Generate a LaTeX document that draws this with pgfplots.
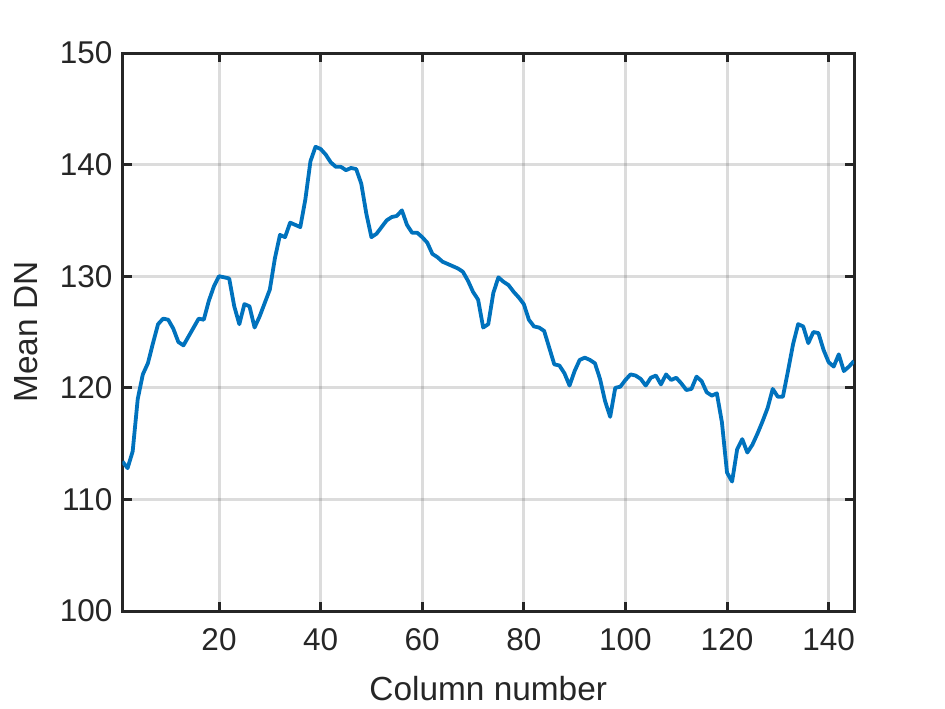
\documentclass[border=0pt]{standalone}
\usepackage{pgfplots}
\pgfplotsset{compat=1.18}
\usepackage{fontspec}
\setmainfont{Liberation Sans}
\definecolor{mlblue}{RGB}{0,114,189}
\definecolor{mltext}{RGB}{38,38,38}
\begin{document}
\begin{tikzpicture}
\useasboundingbox (-61.25pt,-48.5pt) rectangle (411.25pt,305.5pt);
\begin{axis}[
  at={(0,0)}, anchor=south west,
  scale only axis, width=365.75pt, height=279pt,
  xmin=1, xmax=145, ymin=100, ymax=150,
  xtick={20,40,...,140}, ytick={100,110,...,150},
  tick pos=both, xticklabel pos=lower, yticklabel pos=left,
  tick align=inside, major tick length=4.5pt,
  axis line style={mltext, line width=1.5pt},
  every tick/.style={mltext, line width=1.5pt},
  grid=major, major grid style={mltext, draw opacity=0.16, line width=1.5pt},
  /pgf/number format/assume math mode=true,
  ticklabel style={font=\fontsize{15.75}{18}\selectfont, text=mltext},
  yticklabel style={xshift=-1.5pt},
  xticklabel style={yshift=-5pt},
  label style={font=\fontsize{16.7}{19}\selectfont, text=mltext, inner sep=0pt},
  xlabel={Column number},
  xlabel style={at={(axis description cs:0.5,-0.1165)}, anchor=north},
  ylabel={Mean DN},
  ylabel style={at={(axis description cs:-0.1148,0.5)}, anchor=south},
]
\addplot[mlblue, line width=1.9pt, line join=round] table {
x y
1 113.4
2 112.8
3 114.3
4 119.0
5 121.2
6 122.2
7 124.0
8 125.7
9 126.2
10 126.1
11 125.3
12 124.1
13 123.8
14 124.6
15 125.4
16 126.2
17 126.1
18 127.8
19 129.1
20 130.0
21 129.9
22 129.8
23 127.3
24 125.7
25 127.5
26 127.3
27 125.4
28 126.4
29 127.6
30 128.8
31 131.6
32 133.7
33 133.5
34 134.8
35 134.6
36 134.4
37 136.9
38 140.3
39 141.6
40 141.4
41 140.9
42 140.2
43 139.8
44 139.8
45 139.5
46 139.7
47 139.6
48 138.3
49 135.6
50 133.5
51 133.8
52 134.4
53 135.0
54 135.3
55 135.4
56 135.9
57 134.6
58 133.9
59 133.9
60 133.5
61 133.0
62 132.0
63 131.7
64 131.3
65 131.1
66 130.9
67 130.7
68 130.4
69 129.6
70 128.6
71 127.9
72 125.4
73 125.7
74 128.5
75 129.9
76 129.5
77 129.2
78 128.6
79 128.1
80 127.5
81 126.1
82 125.5
83 125.4
84 125.1
85 123.6
86 122.1
87 122.0
88 121.3
89 120.2
90 121.5
91 122.5
92 122.7
93 122.5
94 122.2
95 120.8
96 118.8
97 117.4
98 120.0
99 120.1
100 120.7
101 121.2
102 121.1
103 120.8
104 120.2
105 120.9
106 121.1
107 120.3
108 121.2
109 120.7
110 120.9
111 120.4
112 119.8
113 119.9
114 121.0
115 120.6
116 119.6
117 119.3
118 119.5
119 116.9
120 112.4
121 111.6
122 114.5
123 115.4
124 114.2
125 114.9
126 115.9
127 117.0
128 118.2
129 119.9
130 119.2
131 119.2
132 121.5
133 123.9
134 125.7
135 125.5
136 124.0
137 125.0
138 124.9
139 123.4
140 122.3
141 121.9
142 123.0
143 121.5
144 121.9
145 122.4
};
\end{axis}
\end{tikzpicture}
\end{document}
